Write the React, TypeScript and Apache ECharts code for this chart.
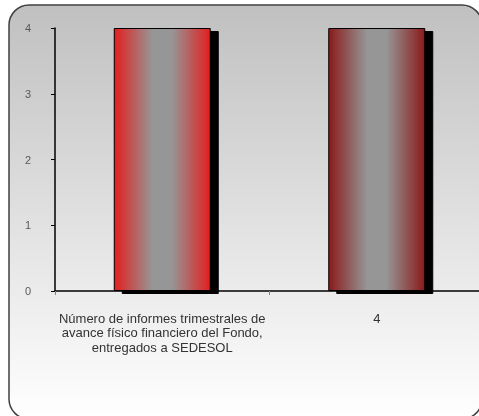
import React, { useEffect, useRef } from "react";
import * as echarts from "echarts";

const categories = [
  "Número de informes trimestrales de\navance físico financiero del Fondo,\nentregados a SEDESOL",
  "4",
];
const values = [4, 4];
const edgeColors = ["#e21f1f", "#8a1b1b"];
const yTicks = [0, 1, 2, 3, 4];

export default function App() {
  const ref = useRef<HTMLDivElement>(null);
  useEffect(() => {
    if (!ref.current) return;
    const chart = echarts.init(ref.current, undefined, { renderer: "svg" });
    const grad = (c: string) =>
      new echarts.graphic.LinearGradient(0, 0, 1, 0, [
        { offset: 0, color: c },
        { offset: 0.4, color: "#969696" },
        { offset: 0.6, color: "#969696" },
        { offset: 1, color: c },
      ]);
    chart.setOption({
      animation: false,
      textStyle: { fontFamily: "Liberation Sans" },
      graphic: [
        {
          type: "rect",
          z: -10,
          silent: true,
          shape: { x: 9, y: 5, width: 473, height: 414, r: 20 },
          style: {
            fill: new echarts.graphic.LinearGradient(0, 0, 0, 1, [
              { offset: 0, color: "#c0c0c0" },
              { offset: 1, color: "#ffffff" },
            ]),
            stroke: "#404040",
            lineWidth: 1.5,
          },
        },
      ],
      grid: { left: 55, top: 28, width: 429, height: 263, containLabel: false },
      xAxis: {
        type: "category",
        data: categories,
        axisLine: { lineStyle: { color: "#000", width: 1.5 } },
        axisTick: { show: true, length: 4, lineStyle: { color: "#808080" } },
        axisLabel: {
          color: "#333",
          fontSize: 13,
          lineHeight: 14.5,
          margin: 20,
          interval: 0,
        },
      },
      yAxis: {
        type: "value",
        min: yTicks[0],
        max: yTicks[yTicks.length - 1],
        interval: 1,
        splitLine: { show: false },
        axisLine: { show: true, lineStyle: { color: "#000", width: 1.5 } },
        axisTick: { show: true, length: 4, lineStyle: { color: "#000" } },
        axisLabel: { color: "#595959", fontSize: 11, margin: 24 },
      },
      series: [
        {
          type: "bar",
          barWidth: 97,
          data: values.map((v, i) => ({
            value: v,
            itemStyle: {
              color: grad(edgeColors[i]),
              borderColor: "#000",
              borderWidth: 1,
              shadowColor: "#000",
              shadowBlur: 0,
              shadowOffsetX: 8,
              shadowOffsetY: 3,
            },
          })),
        },
      ],
    });
    return () => chart.dispose();
  }, []);
  return (
    <div
      style={{
        position: "fixed",
        left: 0,
        top: 0,
        width: 479,
        height: 416,
        overflow: "hidden",
      }}
    >
      <div ref={ref} style={{ width: 500, height: 430 }} />
    </div>
  );
}
